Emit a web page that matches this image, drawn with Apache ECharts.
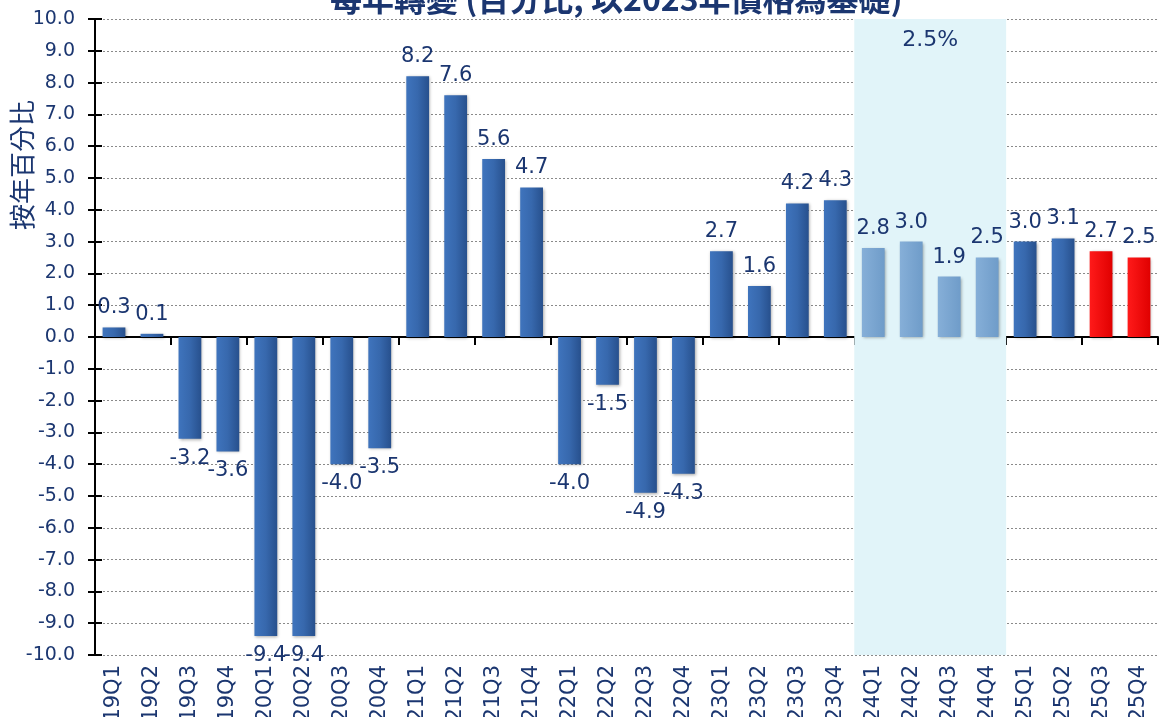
<!DOCTYPE html>
<html>
<head>
<meta charset="utf-8">
<script src="https://cdn.jsdelivr.net/npm/echarts@6/dist/echarts.min.js"></script>
<style>
  html, body { margin: 0; padding: 0; background: #fff; }
  #main { width: 1159px; height: 717px; }
</style>
</head>
<body>
<div id="main"></div>
<script>
// 季度
var quarters = ["19Q1","19Q2","19Q3","19Q4","20Q1","20Q2","20Q3","20Q4",
  "21Q1","21Q2","21Q3","21Q4","22Q1","22Q2","22Q3","22Q4",
  "23Q1","23Q2","23Q3","23Q4","24Q1","24Q2","24Q3","24Q4",
  "25Q1","25Q2","25Q3","25Q4"];
// 按年百分比
var growth = [0.3, 0.1, -3.2, -3.6, -9.4, -9.4, -4.0, -3.5,
  8.2, 7.6, 5.6, 4.7, -4.0, -1.5, -4.9, -4.3,
  2.7, 1.6, 4.2, 4.3, 2.8, 3.0, 1.9, 2.5,
  3.0, 3.1, 2.7, 2.5];
// 2024 全年
var yearQuarters = ["24Q1", "24Q4"];
var yearLabel = "2.5%";
var forecastQuarters = ["25Q3", "25Q4"];

var navy = "#1b3670";
var font = "DejaVu Sans";

function barColor(q) {
  if (forecastQuarters.indexOf(q) >= 0) {
    return new echarts.graphic.LinearGradient(0, 0, 1, 0, [
      { offset: 0, color: "#ff1a1a" }, { offset: 1, color: "#e00000" }
    ]);
  }
  if (q.indexOf("24") === 0) {
    return new echarts.graphic.LinearGradient(0, 0, 1, 0, [
      { offset: 0, color: "#86afd8" }, { offset: 1, color: "#6f9cc9" }
    ]);
  }
  return new echarts.graphic.LinearGradient(0, 0, 1, 0, [
    { offset: 0, color: "#3f74bd" }, { offset: 0.5, color: "#3768ad" }, { offset: 1, color: "#27508d" }
  ]);
}

var barData = growth.map(function (v, i) {
  return {
    value: v,
    itemStyle: { color: barColor(quarters[i]) },
    label: { position: v >= 0 ? "top" : "bottom" }
  };
});

var chart = echarts.init(document.getElementById("main"));
var option = {
  animation: false,
  textStyle: { fontFamily: font },
  title: {
    text: "每年轉變 (百分比, 以2023年價格為基礎)",
    left: 325,
    top: -22,
    textStyle: { color: navy, fontSize: 32, fontWeight: "bold", fontFamily: "Noto Sans CJK TC" }
  },
  graphic: [{
    type: "text",
    left: 9,
    top: 100,
    rotation: Math.PI / 2,
    style: { text: "按年百分比", fill: navy, fontSize: 26, fontFamily: "Noto Sans CJK TC" }
  }],
  grid: { left: 95, right: 1, top: 19, bottom: 62, outerBoundsMode: "none" },
  xAxis: [{
    type: "category",
    data: quarters,
    axisLine: { onZero: true, lineStyle: { color: "#000", width: 2 } },
    axisTick: { show: true, length: 8, lineStyle: { color: "#000", width: 2 } },
    axisLabel: { show: false }
  }, {
    type: "category",
    data: quarters,
    position: "bottom",
    axisLine: { show: false, onZero: false },
    axisTick: { show: false },
    axisLabel: { rotate: 90, color: navy, fontSize: 21, margin: 10, fontFamily: font }
  }, {
    type: "value",
    min: -0.5,
    max: quarters.length - 0.5,
    show: false
  }],
  yAxis: [{
    type: "value",
    min: -10,
    max: 10,
    interval: 1,
    axisLine: { show: true, onZero: false, lineStyle: { color: "#000", width: 2 } },
    axisTick: { show: true, length: 7, lineStyle: { color: "#000", width: 2 } },
    axisLabel: {
      color: navy, fontSize: 19, margin: 20, fontFamily: font,
      formatter: function (v) { return v.toFixed(1); }
    },
    splitLine: { lineStyle: { color: "#8a8a8a", type: [2, 2], width: 1 } }
  }, {
    type: "value",
    min: -10,
    max: 10,
    interval: 1,
    position: "left",
    offset: 0,
    axisLine: { show: false, onZero: false },
    axisTick: { show: true, inside: true, length: 7, lineStyle: { color: "#000", width: 2 } },
    axisLabel: { show: false },
    splitLine: { show: false }
  }],
  series: [{
    type: "line",
    xAxisIndex: 2,
    yAxisIndex: 0,
    data: [],
    silent: true,
    z: 0,
    markArea: {
      silent: true,
      itemStyle: { color: "#e1f4f9" },
      label: {
        show: true,
        position: "insideTop",
        distance: 10,
        color: navy,
        fontSize: 22,
        fontFamily: font
      },
      data: [[
        { name: yearLabel, xAxis: quarters.indexOf(yearQuarters[0]) - 0.5, yAxis: 10 },
        { xAxis: quarters.indexOf(yearQuarters[1]) + 0.5, yAxis: -10 }
      ]]
    }
  }, {
    type: "bar",
    xAxisIndex: 0,
    yAxisIndex: 0,
    data: barData,
    barWidth: "60%",
    z: 3,
    itemStyle: {
      shadowColor: "rgba(0,0,0,0.35)",
      shadowBlur: 3,
      shadowOffsetX: 1,
      shadowOffsetY: 1
    },
    label: {
      show: true,
      color: navy,
      fontSize: 21,
      fontFamily: font,
      distance: 9,
      formatter: function (p) { return p.value.toFixed(1); }
    }
  }]
};
chart.setOption(option);
</script>
</body>
</html>
